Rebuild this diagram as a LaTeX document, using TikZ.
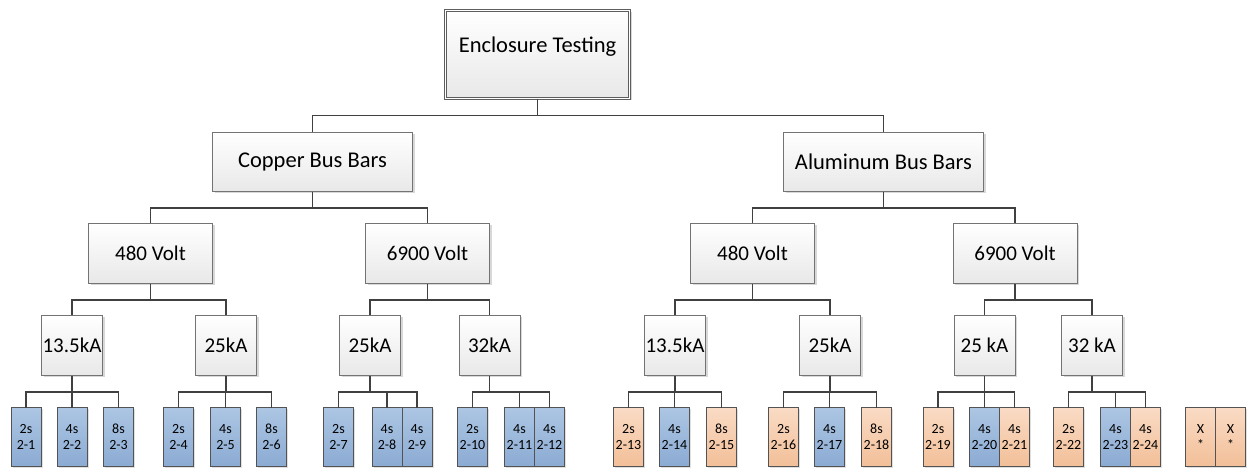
\documentclass[tikz,border=0pt]{standalone}
\usepackage{fontspec}
\setmainfont{Carlito}
\usetikzlibrary{positioning,shadows}
\definecolor{boxline}{RGB}{115,115,115}
\definecolor{linkgray}{RGB}{64,64,64}
\definecolor{bluetop}{RGB}{172,198,227}
\definecolor{bluebot}{RGB}{140,171,211}
\definecolor{orangetop}{RGB}{250,219,197}
\definecolor{orangebot}{RGB}{242,191,152}

\begin{document}
\begin{tikzpicture}[x=1pt, y=-1pt,
  card/.style={rectangle, draw=boxline, line width=0.8pt, top color=white,
               bottom color=black!9, inner sep=0pt, align=center,
               font=\fontsize{21}{25}\selectfont,
               drop shadow={shadow xshift=2pt, shadow yshift=-2pt,
                            fill=black!30, opacity=0.5}},
  rootbox/.style={card, draw=linkgray!85, line width=0.7pt, double=white,
                  double distance=1.3pt, minimum width=184pt,
                  minimum height=88pt, text depth=20pt,
                  font=\fontsize{22.5}{26}\selectfont},
  busbox/.style={card, minimum width=200pt, minimum height=59pt,
                 font=\fontsize{22.5}{26}\selectfont},
  voltbox/.style={card, minimum width=124pt, minimum height=60pt},
  ampbox/.style={card, minimum width=61pt, minimum height=60pt},
  leaf/.style={rectangle, draw=linkgray!90, line width=0.8pt, inner sep=0pt,
               outer sep=0pt, minimum width=30pt, minimum height=59pt,
               align=center, font=\fontsize{14}{16}\selectfont,
               drop shadow={shadow xshift=1.5pt, shadow yshift=-1.5pt,
                            fill=black!30, opacity=0.4}},
  blueleaf/.style={leaf, top color=bluetop, bottom color=bluebot},
  orangeleaf/.style={leaf, top color=orangetop, bottom color=orangebot},
  link/.style={draw=linkgray, line width=1.3pt}
]
  \useasboundingbox (0,0) rectangle (1251,470);

  % top levels
  \node[rootbox] (test) at (537.5,54.5) {Enclosure Testing};
  \node[busbox] (cu) at (312.5,162) {Copper Bus Bars};
  \node[busbox] (al) at (883.5,162) {Aluminum Bus Bars};

  \node[voltbox] (cu480)  at (150.5,253.5) {480 Volt};
  \node[voltbox] (cu6900) at (427.5,253.5) {6900 Volt};
  \node[voltbox] (al480)  at (752.5,253.5) {480 Volt};
  \node[voltbox] (al6900) at (1015,253.5)  {6900 Volt};

  \node[ampbox] (cu480a)  at (72,345.5)   {13.5kA};
  \node[ampbox] (cu480b)  at (226,345.5)  {25kA};
  \node[ampbox] (cu6900a) at (370,345.5)  {25kA};
  \node[ampbox] (cu6900b) at (489.5,345.5) {32kA};
  \node[ampbox] (al480a)  at (675,345.5)  {13.5kA};
  \node[ampbox] (al480b)  at (830,345.5)  {25kA};
  \node[ampbox] (al6900a) at (984.5,345.5) {25 kA};
  \node[ampbox] (al6900b) at (1092,345.5) {32 kA};

  % test leaves
  \node[blueleaf] (t1) at (26,437)    {2s\\2-1};
  \node[blueleaf] (t2) at (72,437)    {4s\\2-2};
  \node[blueleaf] (t3) at (118.5,437) {8s\\2-3};
  \node[blueleaf] (t4) at (178.5,437) {2s\\2-4};
  \node[blueleaf] (t5) at (225.5,437) {4s\\2-5};
  \node[blueleaf] (t6) at (271.5,437) {8s\\2-6};
  \node[blueleaf] (t7) at (338.5,437) {2s\\2-7};
  \node[blueleaf] (t8) at (387,437)   {4s\\2-8};
  \node[blueleaf, right=0pt of t8]  (t9)  {4s\\2-9};
  \node[blueleaf] (t10) at (472.5,437) {2s\\2-10};
  \node[blueleaf] (t11) at (519.5,437) {4s\\2-11};
  \node[blueleaf, right=0pt of t11] (t12) {4s\\2-12};

  \node[orangeleaf] (t13) at (628.5,437) {2s\\2-13};
  \node[blueleaf]   (t14) at (674.5,437) {4s\\2-14};
  \node[orangeleaf] (t15) at (721.5,437) {8s\\2-15};
  \node[orangeleaf] (t16) at (783.5,437) {2s\\2-16};
  \node[blueleaf]   (t17) at (829.5,437) {4s\\2-17};
  \node[orangeleaf] (t18) at (876.5,437) {8s\\2-18};
  \node[orangeleaf] (t19) at (938,437)   {2s\\2-19};
  \node[blueleaf]   (t20) at (984.5,437) {4s\\2-20};
  \node[orangeleaf, right=0pt of t20] (t21) {4s\\2-21};
  \node[orangeleaf] (t22) at (1068.5,437) {2s\\2-22};
  \node[blueleaf]   (t23) at (1115.5,437) {4s\\2-23};
  \node[orangeleaf, right=0pt of t23] (t24) {4s\\2-24};

  \node[orangeleaf] (x1) at (1200.5,437) {X\\*};
  \node[orangeleaf, right=0pt of x1] (x2) {X\\*};

  % connectors
  \draw[link] (test.south) -- ++(0,17) -| (cu.north)
              (test.south) ++(0,17) -| (al.north);
  \draw[link] (cu.south) -- ++(0,16) -| (cu480.north)
              (cu.south) ++(0,16) -| (cu6900.north);
  \draw[link] (al.south) -- ++(0,16) -| (al480.north)
              (al.south) ++(0,16) -| (al6900.north);

  \draw[link] (cu480.south) -- ++(0,16) -| (cu480a.north)
              (cu480.south) ++(0,16) -| (cu480b.north);
  \draw[link] (cu6900.south) -- ++(0,16) -| (cu6900a.north)
              (cu6900.south) ++(0,16) -| (cu6900b.north);
  \draw[link] (al480.south) -- ++(0,16) -| (al480a.north)
              (al480.south) ++(0,16) -| (al480b.north);
  \draw[link] (al6900.south) -- ++(0,16) -| (al6900a.north)
              (al6900.south) ++(0,16) -| (al6900b.north);

  \draw[link] (cu480a.south) -- ++(0,16) -| (t1.north)
              (cu480a.south) ++(0,16) -| (t2.north)
              (cu480a.south) ++(0,16) -| (t3.north);
  \draw[link] (cu480b.south) -- ++(0,16) -| (t4.north)
              (cu480b.south) ++(0,16) -| (t5.north)
              (cu480b.south) ++(0,16) -| (t6.north);
  \draw[link] (cu6900a.south) -- ++(0,16) -| (t7.north)
              (cu6900a.south) ++(0,16) -| (t8.north)
              (cu6900a.south) ++(0,16) -| (t9.north);
  \draw[link] (cu6900b.south) -- ++(0,16) -| (t10.north)
              (cu6900b.south) ++(0,16) -| (t11.north)
              (cu6900b.south) ++(0,16) -| (t12.north);
  \draw[link] (al480a.south) -- ++(0,16) -| (t13.north)
              (al480a.south) ++(0,16) -| (t14.north)
              (al480a.south) ++(0,16) -| (t15.north);
  \draw[link] (al480b.south) -- ++(0,16) -| (t16.north)
              (al480b.south) ++(0,16) -| (t17.north)
              (al480b.south) ++(0,16) -| (t18.north);
  \draw[link] (al6900a.south) -- ++(0,16) -| (t19.north)
              (al6900a.south) ++(0,16) -| (t20.north)
              (al6900a.south) ++(0,16) -| (t21.north);
  \draw[link] (al6900b.south) -- ++(0,16) -| (t22.north)
              (al6900b.south) ++(0,16) -| (t23.north)
              (al6900b.south) ++(0,16) -| (t24.north);
\end{tikzpicture}
\end{document}
